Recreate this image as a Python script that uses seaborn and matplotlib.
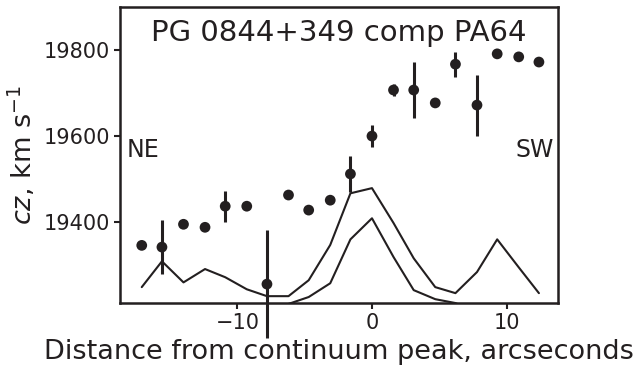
import matplotlib
matplotlib.use("Agg")
import matplotlib.pyplot as plt
import pandas as pd
import seaborn as sns

# offsets along the slit (arcsec)
dist = [-17.1, -15.6, -14.0, -12.4, -10.9, -9.3, -7.8, -6.2, -4.7, -3.1,
        -1.6, 0.0, 1.6, 3.1, 4.7, 6.2, 7.8, 9.3, 10.9, 12.4]
cz = [19346, 19342, 19395, 19388, 19437, 19437, 19256, 19463, 19428, 19451,
      19512, 19600, 19707, 19707, 19677, 19767, 19672, 19791, 19784, 19772]
cz_err = [0, 62, 0, 0, 36, 0, 125, 0, 0, 8,
          42, 26, 15, 64, 0, 29, 71, 0, 0, 0]
# scaled profiles
prof_a = [19249, 19309, 19260, 19291, 19272, 19244, 19228, 19228, 19265, 19347,
          19467, 19479, 19398, 19316, 19249, 19235, 19284, 19360, 19295, 19235]
prof_b = [19150, 19160, 19140, 19150, 19170, 19180, 19195, 19210, 19226, 19258,
          19360, 19409, 19319, 19242, 19221, 19212, 19190, 19170, 19160, 19150]

df = pd.DataFrame({"dist": dist, "cz": cz, "err": cz_err,
                   "a": prof_a, "b": prof_b})

sns.set_style("ticks")
plt.rcParams["font.family"] = ["DejaVu Sans"]
ink = "#231f20"

fig = plt.figure(figsize=(6.36, 3.66), dpi=100)
ax = fig.add_axes([0.189, 0.172, 0.688, 0.809])

sns.lineplot(data=df, x="dist", y="a", color=ink, lw=1.5, ax=ax)
sns.lineplot(data=df, x="dist", y="b", color=ink, lw=1.5, ax=ax)

e = df[df.err > 0]
ax.errorbar(e.dist, e.cz, yerr=e.err, fmt="none", ecolor=ink, elinewidth=2.2,
            capsize=0, clip_on=False, zorder=3)
sns.scatterplot(data=df, x="dist", y="cz", color=ink, s=60, edgecolor="none",
                ax=ax, zorder=4)

ax.set_xlim(-18.7, 13.8)
ax.set_ylim(19212, 19900)
ax.set_xticks([-10, 0, 10])
ax.set_yticks([19400, 19600, 19800])
ax.tick_params(labelsize=15, length=4, width=1.5, color=ink, labelcolor=ink)
for s in ax.spines.values():
    s.set_linewidth(1.8)
    s.set_color(ink)

ax.set_xlabel("Distance from continuum peak, arcseconds", fontsize=19.5, color=ink)
ax.set_ylabel("$cz$, km s$^{-1}$", fontsize=19.5, color=ink)
ax.text(0.5, 0.958, "PG 0844+349 comp PA64", transform=ax.transAxes,
        ha="center", va="top", fontsize=21, color=ink)
ax.text(0.015, 0.517, "NE", transform=ax.transAxes, ha="left", va="center",
        fontsize=17, color=ink)
ax.text(0.99, 0.517, "SW", transform=ax.transAxes, ha="right", va="center",
        fontsize=17, color=ink)

fig.savefig("out.png", dpi=100)
